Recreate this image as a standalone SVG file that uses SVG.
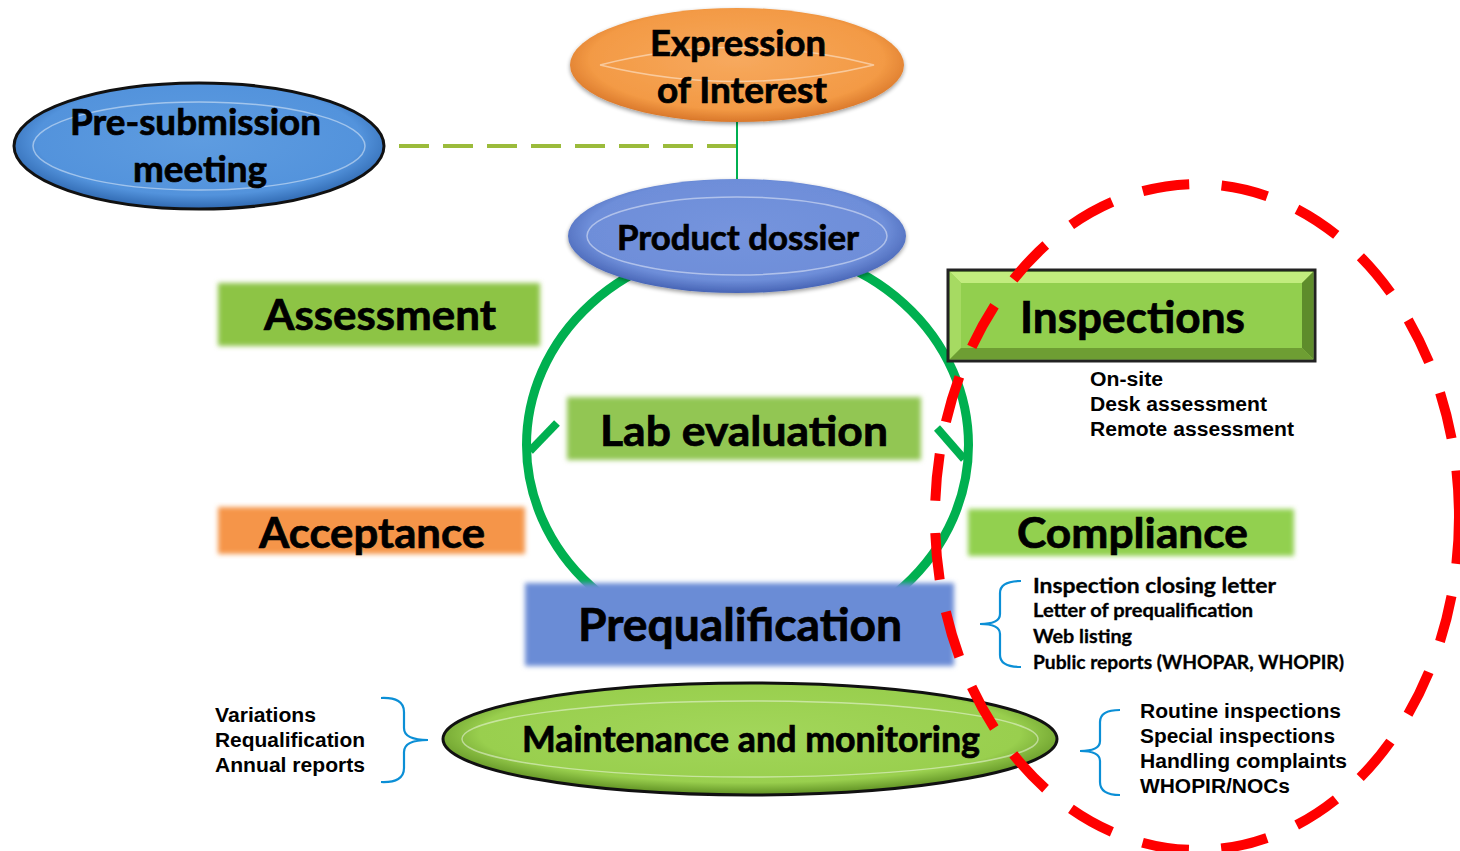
<svg xmlns="http://www.w3.org/2000/svg" width="1460" height="851" viewBox="0 0 1460 851">
<defs>
<style>
.big{font-family:"Lato","Open Sans","DejaVu Sans",sans-serif;font-weight:700;fill:#000;stroke:#000;stroke-width:0.7;}
.sm{font-family:"Liberation Sans",Arial,sans-serif;font-weight:700;fill:#000;font-size:20px;}
.smc{font-family:"Lato","Open Sans",sans-serif;font-weight:700;fill:#000;stroke:#000;stroke-width:0.3;}
.brace{fill:none;stroke:#0B8FD6;stroke-width:2.2;}
.hl{fill:none;stroke:#ffffff;stroke-opacity:0.45;stroke-width:1.5;}
</style>
<filter id="soft" x="-5%" y="-10%" width="110%" height="120%"><feGaussianBlur stdDeviation="2.5"/></filter>
<filter id="shadow" x="-10%" y="-20%" width="120%" height="140%"><feGaussianBlur in="SourceAlpha" stdDeviation="2"/><feOffset dy="2"/><feComponentTransfer><feFuncA type="linear" slope="0.4"/></feComponentTransfer><feMerge><feMergeNode/><feMergeNode in="SourceGraphic"/></feMerge></filter>
<radialGradient id="gEoi" cx="50%" cy="45%" r="55%"><stop offset="0" stop-color="#F7A95E"/><stop offset="0.8" stop-color="#F39A45"/><stop offset="1" stop-color="#D9772A"/></radialGradient>
<radialGradient id="gPs" cx="50%" cy="45%" r="55%"><stop offset="0" stop-color="#5E9CE0"/><stop offset="0.8" stop-color="#5393DC"/><stop offset="1" stop-color="#2F68B0"/></radialGradient>
<radialGradient id="gPd" cx="50%" cy="45%" r="55%"><stop offset="0" stop-color="#7594DD"/><stop offset="0.8" stop-color="#6E8ED9"/><stop offset="1" stop-color="#4764B5"/></radialGradient>
<radialGradient id="gMm" cx="50%" cy="45%" r="55%"><stop offset="0" stop-color="#A2D65A"/><stop offset="0.8" stop-color="#99CF4E"/><stop offset="1" stop-color="#5E8F22"/></radialGradient>
</defs>
<rect width="1460" height="851" fill="#fff"/>

<g id="connectors">
  <line x1="737" y1="146" x2="398" y2="146" stroke="#9BBB3B" stroke-width="4" stroke-dasharray="30 14"/>
  <line x1="737" y1="120" x2="737" y2="182" stroke="#00B050" stroke-width="2"/>
  <ellipse cx="747.5" cy="445" rx="221" ry="200" fill="none" stroke="#00B050" stroke-width="9"/>
  <line x1="557" y1="423" x2="530" y2="451" stroke="#00B050" stroke-width="8"/>
  <line x1="937" y1="428" x2="964" y2="459" stroke="#00B050" stroke-width="8"/>
</g>

<g id="expression-of-interest">
  <ellipse cx="737" cy="65" rx="167" ry="57" fill="url(#gEoi)" filter="url(#shadow)"/>
  <path d="M600,65 Q737,30 874,65 Q737,98 600,65" class="hl"/>
  <text class="big" font-size="37" x="650" y="56" textLength="176" lengthAdjust="spacingAndGlyphs">Expression</text>
  <text class="big" font-size="37" x="657" y="103" textLength="170" lengthAdjust="spacingAndGlyphs">of Interest</text>
</g>

<g id="pre-submission-meeting">
  <ellipse cx="199" cy="146" rx="185" ry="63" fill="url(#gPs)" stroke="#111" stroke-width="3"/>
  <ellipse cx="199" cy="146" rx="166" ry="44" class="hl"/>
  <text class="big" font-size="36" x="70" y="135" textLength="251" lengthAdjust="spacingAndGlyphs">Pre-submission</text>
  <text class="big" font-size="36" x="133" y="182" textLength="134" lengthAdjust="spacingAndGlyphs">meeting</text>
</g>

<g id="product-dossier">
  <ellipse cx="737" cy="236" rx="169" ry="57" fill="url(#gPd)" filter="url(#shadow)"/>
  <ellipse cx="737" cy="236" rx="150" ry="39" class="hl"/>
  <text class="big" font-size="34" x="617" y="250" textLength="242" lengthAdjust="spacingAndGlyphs">Product dossier</text>
</g>

<g id="assessment">
  <rect x="218" y="283" width="322" height="63" fill="#8DC444" filter="url(#soft)"/>
  <text class="big" font-size="42" x="264" y="330" textLength="232" lengthAdjust="spacingAndGlyphs">Assessment</text>
</g>

<g id="lab-evaluation">
  <rect x="567" y="397" width="354" height="63" fill="#92C652" filter="url(#soft)"/>
  <text class="big" font-size="42" x="600" y="446" textLength="288" lengthAdjust="spacingAndGlyphs">Lab evaluation</text>
</g>

<g id="acceptance">
  <rect x="218" y="507" width="307" height="47" fill="#F5954A" filter="url(#soft)"/>
  <text class="big" font-size="42" x="259" y="548" textLength="226" lengthAdjust="spacingAndGlyphs">Acceptance</text>
</g>

<g id="compliance">
  <rect x="968" y="509" width="326" height="47" fill="#92D050" filter="url(#soft)"/>
  <text class="big" font-size="42" x="1017" y="548" textLength="231" lengthAdjust="spacingAndGlyphs">Compliance</text>
</g>

<g id="inspections">
  <rect x="948" y="270" width="367" height="91" fill="#92CF4E" stroke="#222" stroke-width="3"/>
  <polygon points="950,272 1313,272 1302,283 961,283" fill="#C2EC7E"/>
  <polygon points="950,272 961,283 961,348 950,359" fill="#A6DA62"/>
  <polygon points="1313,272 1313,359 1302,348 1302,283" fill="#5E8C2B"/>
  <polygon points="950,359 961,348 1302,348 1313,359" fill="#6E9E33"/>
  <text class="big" font-size="44" x="1020" y="333" textLength="225" lengthAdjust="spacingAndGlyphs">Inspections</text>
  <text class="sm" x="1090" y="386" textLength="73" lengthAdjust="spacingAndGlyphs">On-site</text>
  <text class="sm" x="1090" y="411" textLength="177" lengthAdjust="spacingAndGlyphs">Desk assessment</text>
  <text class="sm" x="1090" y="436" textLength="204" lengthAdjust="spacingAndGlyphs">Remote assessment</text>
</g>

<g id="prequalification">
  <rect x="525" y="583" width="429" height="83" fill="#6B8CD6" filter="url(#soft)"/>
  <text class="big" font-size="45" x="578" y="641" textLength="324" lengthAdjust="spacingAndGlyphs">Prequalification</text>
</g>

<g id="maintenance-and-monitoring">
  <ellipse cx="750" cy="739" rx="307" ry="56" fill="url(#gMm)" stroke="#111" stroke-width="3"/>
  <ellipse cx="750" cy="739" rx="288" ry="38" class="hl"/>
  <text class="big" font-size="36" x="522" y="752" textLength="458" lengthAdjust="spacingAndGlyphs">Maintenance and monitoring</text>
</g>

<g id="left-notes">
  <path class="brace" d="M381,698 Q404,697 404,712 L404,728 Q404,740 428,740 Q404,740 404,752 L404,768 Q404,783 381,782"/>
  <text class="sm" x="215" y="722" textLength="101" lengthAdjust="spacingAndGlyphs">Variations</text>
  <text class="sm" x="215" y="747" textLength="150" lengthAdjust="spacingAndGlyphs">Requalification</text>
  <text class="sm" x="215" y="772" textLength="150" lengthAdjust="spacingAndGlyphs">Annual reports</text>
</g>

<g id="compliance-notes">
  <path class="brace" d="M1021,581 Q1000,581 1000,593 L1000,614 Q1000,624 980,624 Q1000,624 1000,634 L1000,655 Q1000,667 1021,667"/>
  <text class="smc" font-size="20" x="1033" y="593" textLength="243" lengthAdjust="spacingAndGlyphs">Inspection closing letter</text>
  <text class="smc" font-size="18" x="1033" y="617" textLength="220" lengthAdjust="spacingAndGlyphs">Letter of prequalification</text>
  <text class="smc" font-size="19" x="1033" y="643" textLength="99" lengthAdjust="spacingAndGlyphs">Web listing</text>
  <text class="smc" font-size="19" x="1033" y="669" textLength="311" lengthAdjust="spacingAndGlyphs">Public reports (WHOPAR, WHOPIR)</text>
</g>

<g id="monitoring-notes">
  <path class="brace" d="M1120,710 Q1100,710 1100,722 L1100,741 Q1100,751 1080,751 Q1100,751 1100,761 L1100,782 Q1100,795 1120,795"/>
  <text class="sm" x="1140" y="718" textLength="201" lengthAdjust="spacingAndGlyphs">Routine inspections</text>
  <text class="sm" x="1140" y="743" textLength="195" lengthAdjust="spacingAndGlyphs">Special inspections</text>
  <text class="sm" x="1140" y="768" textLength="207" lengthAdjust="spacingAndGlyphs">Handling complaints</text>
  <text class="sm" x="1140" y="793" textLength="150" lengthAdjust="spacingAndGlyphs">WHOPIR/NOCs</text>
</g>

<g id="inspection-scope">
  <ellipse cx="1197" cy="517" rx="262" ry="333" fill="none" stroke="#FF0000" stroke-width="10" stroke-dasharray="47 32.5"/>
</g>
</svg>
